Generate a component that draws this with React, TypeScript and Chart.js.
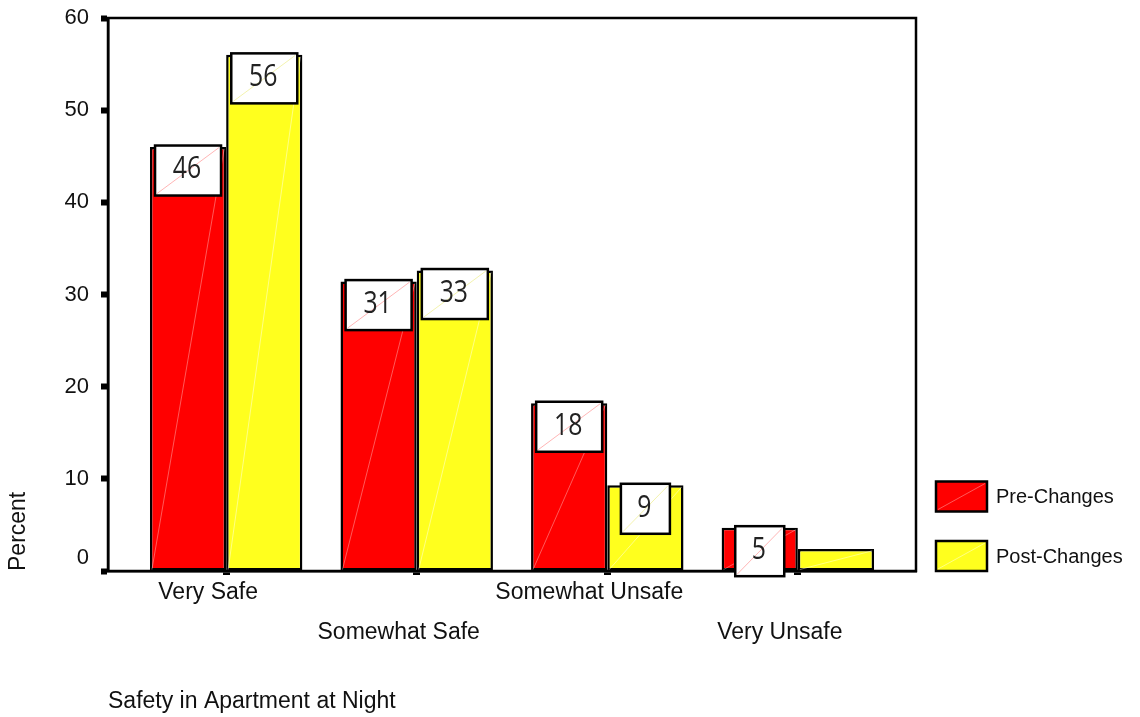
import React, { useEffect, useRef } from "react";
import { Chart, registerables } from "chart.js";

Chart.register(...registerables);

// ---- data ----
const categories = ["Very Safe", "Somewhat Safe", "Somewhat Unsafe", "Very Unsafe"];
const seriesNames = ["Pre-Changes", "Post-Changes"];
const preChanges = [46.0, 31.4, 18.2, 4.7];
const postChanges = [56.0, 32.6, 9.3, 2.4];
const preLabels: (string | null)[] = ["46", "31", "18", "5"];
const postLabels: (string | null)[] = ["56", "33", "9", null];
const yMin = 0;
const yMax = 60;
const yStep = 10;
const xTitle = "Safety in Apartment at Night";
const yTitle = "Percent";

// ---- styles ----
const RED = "#FF0000";
const YELLOW = "#FFFF1E";
const FONT = "'Liberation Sans', Arial, sans-serif";
const TEXT = "#111111";

const framePlugin = {
  id: "frame",
  beforeDatasetsDraw(chart: any) {
    const { ctx, chartArea: a } = chart;
    ctx.save();
    ctx.strokeStyle = "#000";
    ctx.lineWidth = 2.5;
    ctx.strokeRect(a.left, a.top, a.right - a.left, a.bottom - a.top);
    ctx.restore();
  },
};

const diagColors = ["rgba(255,255,255,0.35)", "rgba(255,255,255,0.45)"];
const boxDiagColors = ["rgba(255,120,120,0.55)", "rgba(235,235,120,0.6)"];

const boxPlugin = {
  id: "valueBoxes",
  afterDatasetsDraw(chart: any) {
    const ctx = chart.ctx;
    // faint diagonals on bars
    chart.data.datasets.forEach((ds: any, di: number) => {
      const meta = chart.getDatasetMeta(di);
      meta.data.forEach((bar: any) => {
        const p = bar.getProps(["x", "y", "base", "width"], true);
        const l = p.x - p.width / 2 + 2;
        const r = p.x + p.width / 2 - 2;
        ctx.save();
        ctx.strokeStyle = diagColors[di];
        ctx.lineWidth = 1;
        ctx.beginPath();
        ctx.moveTo(l, p.base - 1);
        ctx.lineTo(r, p.y + 2);
        ctx.stroke();
        ctx.restore();
      });
    });
    // value boxes
    chart.data.datasets.forEach((ds: any, di: number) => {
      const meta = chart.getDatasetMeta(di);
      const labels = di === 0 ? preLabels : postLabels;
      meta.data.forEach((bar: any, i: number) => {
        const lab = labels[i];
        if (lab == null) return;
        const p = bar.getProps(["x", "y"], true);
        const w = lab.length > 1 ? 66 : 49;
        const h = 50;
        const x0 = p.x - w / 2;
        const y0 = p.y - 1.5;
        ctx.save();
        ctx.fillStyle = "#fff";
        ctx.fillRect(x0, y0, w, h);
        ctx.strokeStyle = boxDiagColors[di];
        ctx.lineWidth = 1;
        ctx.beginPath();
        ctx.moveTo(x0 + 2, y0 + h - 2);
        ctx.lineTo(x0 + w - 2, y0 + 2);
        ctx.stroke();
        ctx.strokeStyle = "#000";
        ctx.lineWidth = 2.5;
        ctx.strokeRect(x0, y0, w, h);
        ctx.translate(p.x - 1, y0 + h / 2);
        ctx.scale(0.8, 1);
        ctx.fillStyle = "#222";
        ctx.font = "400 31px 'Open Sans', 'DejaVu Sans', sans-serif";
        ctx.textAlign = "center";
        ctx.textBaseline = "middle";
        ctx.fillText(lab, 0, -1);
        ctx.restore();
      });
    });
  },
};

const legendPlugin = {
  id: "customLegend",
  afterDraw(chart: any) {
    const { ctx, chartArea: a } = chart;
    const left = a.right + 20;
    const tops = [a.bottom - 89.5, a.bottom - 30];
    const bw = 51;
    const bh = 30;
    chart.data.datasets.forEach((ds: any, di: number) => {
      const top = tops[di];
      ctx.save();
      ctx.fillStyle = ds.backgroundColor;
      ctx.fillRect(left, top, bw, bh);
      ctx.strokeStyle = diagColors[di];
      ctx.lineWidth = 1;
      ctx.beginPath();
      ctx.moveTo(left + 2, top + bh - 2);
      ctx.lineTo(left + bw - 2, top + 2);
      ctx.stroke();
      ctx.strokeStyle = "#000";
      ctx.lineWidth = 2.5;
      ctx.strokeRect(left, top, bw, bh);
      ctx.fillStyle = TEXT;
      ctx.font = `20px ${FONT}`;
      ctx.textAlign = "left";
      ctx.textBaseline = "middle";
      ctx.fillText(ds.label, left + bw + 9, top + bh / 2 + 1);
      ctx.restore();
    });
  },
};

export default function App() {
  const ref = useRef<HTMLCanvasElement | null>(null);

  useEffect(() => {
    document.body.style.margin = "0";
    document.body.style.overflow = "hidden";
    const canvas = ref.current;
    if (!canvas) return;
    const chart = new Chart(canvas, {
      type: "bar",
      data: {
        datasets: [
          {
            label: seriesNames[0],
            data: preChanges.map((v, i) => ({ x: i, y: v })),
            backgroundColor: RED,
            borderColor: "#000",
            borderWidth: 2.5,
            borderSkipped: false,
          },
          {
            label: seriesNames[1],
            data: postChanges.map((v, i) => ({ x: i, y: v })),
            backgroundColor: YELLOW,
            borderColor: "#000",
            borderWidth: 2.5,
            borderSkipped: false,
          },
        ],
      },
      options: {
        responsive: false,
        animation: false,
        categoryPercentage: 0.8,
        barPercentage: 1.0,
        layout: { padding: { left: 0, top: 18, right: 224, bottom: 0 } },
        plugins: {
          legend: { display: false },
          tooltip: { enabled: false },
        },
        scales: {
          x: {
            type: "linear",
            min: -0.62,
            max: categories.length - 1 + 0.62,
            offset: false,
            afterBuildTicks: (scale: any) => {
              scale.ticks = categories.map((_, i) => ({ value: i }));
            },
            afterFit: (scale: any) => {
              scale.height = 146;
              scale.paddingLeft = 0;
              scale.paddingRight = 0;
              scale.paddingTop = 0;
              scale.paddingBottom = 0;
            },
            grid: {
              offset: false,
              drawOnChartArea: false,
              drawTicks: true,
              tickLength: 4,
              tickWidth: 7,
              tickColor: "#000",
              color: "#000",
            },
            border: { display: true, color: "#000", width: 2.5 },
            ticks: {
              autoSkip: false,
              maxRotation: 0,
              minRotation: 0,
              padding: -2,
              labelOffset: -18,
              color: TEXT,
              font: { family: FONT, size: 23, lineHeight: "40px" },
              callback: (v: any) => {
                const i = Math.round(Number(v));
                const lab = categories[i];
                if (lab === undefined) return "";
                return i % 2 === 1 ? ["", lab] : lab;
              },
            },
            title: {
              display: true,
              text: xTitle,
              align: "start",
              color: TEXT,
              font: { family: FONT, size: 23, lineHeight: 1 },
              padding: { top: 0, bottom: 4 },
            },
          },
          y: {
            min: yMin,
            max: yMax,
            afterFit: (scale: any) => {
              scale.width = 108;
              scale.paddingLeft = 0;
              scale.paddingRight = 0;
              scale.paddingTop = 0;
              scale.paddingBottom = 0;
            },
            grid: {
              drawOnChartArea: false,
              drawTicks: true,
              tickLength: 7,
              tickWidth: 6,
              tickColor: "#000",
              color: "#000",
            },
            border: { display: true, color: "#000", width: 2.5 },
            ticks: {
              stepSize: yStep,
              padding: 12,
              color: TEXT,
              font: { family: FONT, size: 22 },
              callback: (v: any) => (Number(v) === 0 ? ["0", ""] : String(v)),
            },
            title: {
              display: true,
              text: yTitle,
              align: "start",
              color: TEXT,
              font: { family: FONT, size: 23, lineHeight: 1 },
              padding: { top: 7, bottom: 0 },
            },
          },
        },
      },
      plugins: [framePlugin, boxPlugin, legendPlugin],
    } as any);
    return () => chart.destroy();
  }, []);

  return (
    <div style={{ width: 1140, height: 717, overflow: "hidden", background: "#fff" }}>
      <canvas ref={ref} width={1140} height={717} style={{ display: "block" }} />
    </div>
  );
}
